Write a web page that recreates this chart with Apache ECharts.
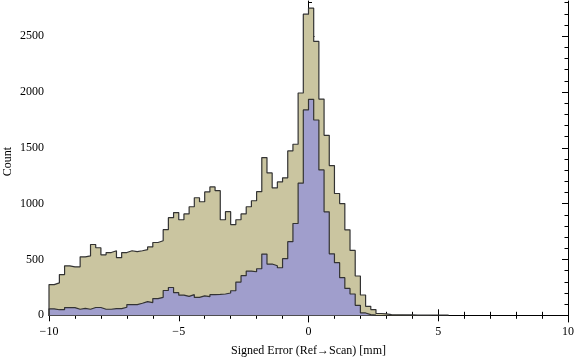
<!DOCTYPE html>
<html>
<head>
<meta charset="utf-8">
<title>Signed Error histogram</title>
<script src="https://cdn.jsdelivr.net/npm/echarts@6/dist/echarts.min.js"></script>
<style>
  html, body { margin: 0; padding: 0; background: #fff; }
  #chart { width: 576px; height: 362px; }
</style>
</head>
<body>
<div id="chart"></div>
<script>
// bins are 0.2 mm wide, first one starts at -10
const binStart = -10;
const binWidth = 0.2;

// all points (khaki)
const countsAll = [
  275, 290, 365, 443, 434, 434, 524, 532, 634, 605,
  542, 562, 578, 516, 562, 578, 570, 578, 588, 612,
  652, 668, 767, 874, 920, 856, 908, 972, 1053, 1017,
  1105, 1150, 1116, 856, 928, 813, 856, 908, 972, 1026,
  1107, 1413, 1275, 1141, 1195, 1231, 1472, 1532, 1991, 2697,
  2751, 2453, 1937, 1612, 1341, 1091, 1001, 766, 581, 352,
  182, 80, 51, 16, 12, 6, 5, 4, 3, 3,
  2, 2, 2, 1, 1, 1, 1
];

// subset (blue)
const countsSub = [
  58, 50, 50, 69, 69, 54, 62, 54, 70, 70,
  54, 54, 60, 60, 72, 96, 96, 108, 123, 114,
  150, 161, 222, 249, 203, 180, 170, 185, 160, 174,
  167, 185, 187, 191, 200, 220, 298, 355, 396, 390,
  417, 548, 459, 444, 426, 507, 659, 822, 1183, 1839,
  1934, 1749, 1302, 927, 551, 471, 337, 241, 191, 89,
  21, 6, 2
];

const yTicks = [0, 500, 1000, 1500, 2000, 2500];
const yMinorTicks = [
  100, 200, 300, 400, 600, 700, 800, 900, 1100, 1200, 1300, 1400,
  1600, 1700, 1800, 1900, 2100, 2200, 2300, 2400, 2600, 2700, 2800
];

const font = 'Liberation Serif';
const frameColor = '#000';

// outline of a histogram: flat top over each bin, down to 0 at both ends
function stepPoints(counts) {
  const pts = [[binStart, 0]];
  counts.forEach((v, i) => {
    const x0 = +(binStart + i * binWidth).toFixed(2);
    const x1 = +(binStart + (i + 1) * binWidth).toFixed(2);
    pts.push([x0, v], [x1, v]);
  });
  pts.push([pts[pts.length - 1][0], 0]);
  return pts;
}

const xBase = {
  type: 'value',
  min: -10,
  max: 10,
  interval: 5,
  axisLine: { lineStyle: { color: frameColor, width: 1 } },
  axisTick: { inside: true, length: 6, lineStyle: { color: frameColor } },
  minorTick: { show: true, splitNumber: 5, length: 3.5, lineStyle: { color: frameColor } },
  splitLine: { show: false },
};

const yBase = {
  type: 'value',
  min: -60,
  max: 2815,
  splitLine: { show: false },
  axisLine: { show: true, lineStyle: { color: frameColor, width: 1 } },
};

function yMajor(position, withLabels) {
  return Object.assign({}, yBase, {
    position,
    axisTick: { inside: true, length: 6, customValues: yTicks, lineStyle: { color: frameColor } },
    axisLabel: withLabels ? {
      customValues: yTicks,
      margin: 5,
      color: '#000',
      fontFamily: font,
      fontSize: 12,
      formatter: v => String(v),
    } : { show: false },
  });
}

function yMinor(position) {
  return Object.assign({}, yBase, {
    position,
    axisLine: { show: false },
    axisTick: { inside: true, length: 3.5, customValues: yMinorTicks, lineStyle: { color: frameColor } },
    axisLabel: { show: false },
  });
}

const chart = echarts.init(document.getElementById('chart'));

chart.setOption({
  animation: false,
  backgroundColor: '#fff',
  grid: {
    left: 49,
    right: 8,
    top: 1,
    bottom: 40,
    containLabel: false,
    outerBoundsMode: 'none',
  },
  xAxis: [
    Object.assign({}, xBase, {
      position: 'bottom',
      name: 'Signed Error (Ref\u2192Scan) [mm]',
      nameLocation: 'middle',
      nameGap: 23,
      nameMoveOverlap: false,
      nameTextStyle: { color: '#000', fontFamily: font, fontSize: 12 },
      axisLabel: {
        margin: 4,
        color: '#000',
        fontFamily: font,
        fontSize: 12,
        formatter: v => String(v).replace('-', '\u2212'),
      },
    }),
    Object.assign({}, xBase, {
      position: 'top',
      axisLabel: { show: false },
    }),
  ],
  yAxis: [
    Object.assign(yMajor('left', true), {
      name: 'Count',
      nameLocation: 'middle',
      nameGap: 35,
      nameRotate: 90,
      nameMoveOverlap: false,
      nameTextStyle: { color: '#000', fontFamily: font, fontSize: 12 },
    }),
    yMinor('left'),
    yMajor('right', false),
    yMinor('right'),
  ],
  series: [
    {
      name: 'all',
      type: 'line',
      xAxisIndex: 0,
      yAxisIndex: 0,
      data: stepPoints(countsAll),
      symbol: 'none',
      lineStyle: { color: '#333', width: 1.2 },
      areaStyle: { color: '#cac5a0', opacity: 1 },
    },
    {
      name: 'subset',
      type: 'line',
      xAxisIndex: 0,
      yAxisIndex: 0,
      data: stepPoints(countsSub),
      symbol: 'none',
      lineStyle: { color: '#333', width: 1.2 },
      areaStyle: { color: '#a09ecc', opacity: 1 },
    },
  ],
});
</script>
</body>
</html>
